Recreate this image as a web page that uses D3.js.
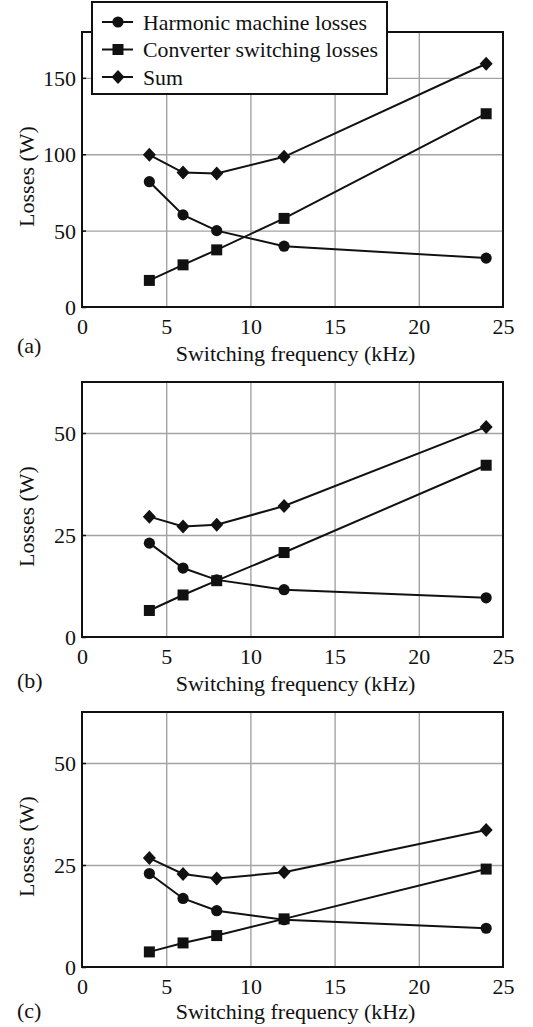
<!DOCTYPE html>
<html>
<head>
<meta charset="utf-8">
<script src="https://cdn.jsdelivr.net/npm/d3@7"></script>
<style>
  body { margin: 0; background: #fff; }
  svg { display: block; }
  text { font-family: "Liberation Serif", "Times New Roman", serif; fill: #111; }
</style>
</head>
<body>
<svg id="chart" width="533" height="1027" font-family="Liberation Serif, serif"></svg>
<script>
// switching frequency (kHz)
const freq = [4, 6, 8, 12, 24];

// (a)
const harmonicA = [82, 60.3, 50, 39.8, 32];
const converterA = [17.4, 27.6, 37.4, 58, 126.5];
const sumA = [99.6, 88, 87.4, 98.3, 159.2];
// (b)
const harmonicB = [23.0, 16.9, 14.0, 11.6, 9.6];
const converterB = [6.5, 10.3, 13.8, 20.7, 42.1];
const sumB = [29.5, 27.1, 27.5, 32.1, 51.5];
// (c)
const harmonicC = [22.9, 16.8, 13.8, 11.6, 9.5];
const converterC = [3.7, 5.9, 7.7, 11.8, 24.0];
const sumC = [26.7, 22.8, 21.7, 23.2, 33.6];

const xTicks = [0, 5, 10, 15, 20, 25];
const yTicksA = [0, 50, 100, 150];
const yTicksBC = [0, 25, 50];
const seriesNames = ["Harmonic machine losses", "Converter switching losses", "Sum"];
const markerTypes = ["circle", "square", "diamond"];
const panelLetters = ["(a)", "(b)", "(c)"];

const svg = d3.select("#chart");
const left = 82, right = 503;
const fontSize = 22;
const serif = "'Liberation Serif', 'Times New Roman', serif";

const panels = [
  { series: [harmonicA, converterA, sumA], yMax: 180, yTicks: yTicksA, top: 32, bottom: 307, letter: panelLetters[0], letterDy: 46, labelDy: 54 },
  { series: [harmonicB, converterB, sumB], yMax: 62.5, yTicks: yTicksBC, top: 382, bottom: 637, letter: panelLetters[1], letterDy: 51, labelDy: 54 },
  { series: [harmonicC, converterC, sumC], yMax: 62.5, yTicks: yTicksBC, top: 712, bottom: 967, letter: panelLetters[2], letterDy: 51, labelDy: 52 }
];

function marker(g, type, x, y) {
  if (type === "circle") {
    g.append("circle").attr("cx", x).attr("cy", y).attr("r", 5.6).attr("fill", "#111");
  } else if (type === "square") {
    g.append("rect").attr("x", x - 5.5).attr("y", y - 5.5).attr("width", 11).attr("height", 11).attr("fill", "#111");
  } else {
    g.append("path")
      .attr("d", `M${x},${y - 7}L${x + 6.5},${y}L${x},${y + 7}L${x - 6.5},${y}Z`)
      .attr("fill", "#111");
  }
}

panels.forEach(p => {
  const x = d3.scaleLinear().domain([0, 25]).range([left, right]);
  const y = d3.scaleLinear().domain([0, p.yMax]).range([p.bottom, p.top]);
  const g = svg.append("g");

  // grid
  g.append("g")
    .attr("transform", `translate(0,${p.bottom})`)
    .call(d3.axisBottom(x).tickValues(xTicks.slice(1, -1)).tickSize(-(p.bottom - p.top)).tickFormat(""))
    .call(a => a.select(".domain").remove())
    .selectAll("line").attr("stroke", "#a3a3a3").attr("stroke-width", 1.4);

  g.append("g")
    .attr("transform", `translate(${left},0)`)
    .call(d3.axisLeft(y).tickValues(p.yTicks.slice(1)).tickSize(-(right - left)).tickFormat(""))
    .call(a => a.select(".domain").remove())
    .selectAll("line").attr("stroke", "#a3a3a3").attr("stroke-width", 1.4);

  // frame
  g.append("rect")
    .attr("x", left).attr("y", p.top)
    .attr("width", right - left).attr("height", p.bottom - p.top)
    .attr("fill", "none").attr("stroke", "#111").attr("stroke-width", 2);

  // tick labels
  const xa = g.append("g")
    .attr("transform", `translate(0,${p.bottom})`)
    .call(d3.axisBottom(x).tickValues(xTicks).tickSize(0).tickPadding(0).tickFormat(d3.format("d")))
    .attr("font-family", serif).attr("font-size", fontSize);
  xa.select(".domain").remove();
  xa.selectAll("text").attr("y", 26.5).attr("dy", 0)
    .style("font-size", fontSize + "px").style("font-family", serif).attr("fill", "#111");

  const ya = g.append("g")
    .attr("transform", `translate(${left},0)`)
    .call(d3.axisLeft(y).tickValues(p.yTicks).tickSize(4).tickPadding(6).tickFormat(d3.format("d")))
    .attr("font-family", serif).attr("font-size", fontSize);
  ya.select(".domain").remove();
  ya.selectAll("line").attr("x2", 4).attr("stroke", "#111").attr("stroke-width", 1.5);
  ya.selectAll("text").attr("x", -6).attr("dy", "0.35em")
    .style("font-size", fontSize + "px").style("font-family", serif).attr("fill", "#111");

  // axis titles
  g.append("text")
    .attr("x", (left + right) / 2 + 3).attr("y", p.bottom + p.labelDy)
    .attr("text-anchor", "middle").style("font-size", fontSize + "px").style("font-family", serif)
    .text("Switching frequency (kHz)");

  g.append("text")
    .attr("transform", `translate(34,${(p.top + p.bottom) / 2 + 7}) rotate(-90)`)
    .attr("text-anchor", "middle").style("font-size", fontSize + "px").style("font-family", serif)
    .text("Losses (W)");

  g.append("text")
    .attr("x", 17).attr("y", p.bottom + p.letterDy)
    .style("font-size", fontSize + "px").style("font-family", serif)
    .text(p.letter);

  // series
  const line = d3.line().x((d, i) => x(freq[i])).y(d => y(d));
  p.series.forEach((vals, si) => {
    g.append("path")
      .datum(vals)
      .attr("d", line)
      .attr("fill", "none").attr("stroke", "#111").attr("stroke-width", 2);
    vals.forEach((v, i) => marker(g, markerTypes[si], x(freq[i]), y(v)));
  });
});

// legend on panel (a)
const lg = svg.append("g");
lg.append("rect")
  .attr("x", 92).attr("y", 2).attr("width", 295).attr("height", 92)
  .attr("fill", "#fff").attr("stroke", "#111").attr("stroke-width", 2);
const rowY = d3.scalePoint().domain(seriesNames).range([22, 77]);
seriesNames.forEach((name, i) => {
  const yy = rowY(name);
  lg.append("line").attr("x1", 102).attr("x2", 133).attr("y1", yy).attr("y2", yy)
    .attr("stroke", "#111").attr("stroke-width", 2);
  marker(lg, markerTypes[i], 118, yy);
  lg.append("text").attr("x", 143).attr("y", yy).attr("dy", "0.35em")
    .style("font-size", "21.8px").style("font-family", serif).text(name);
});
</script>
</body>
</html>
